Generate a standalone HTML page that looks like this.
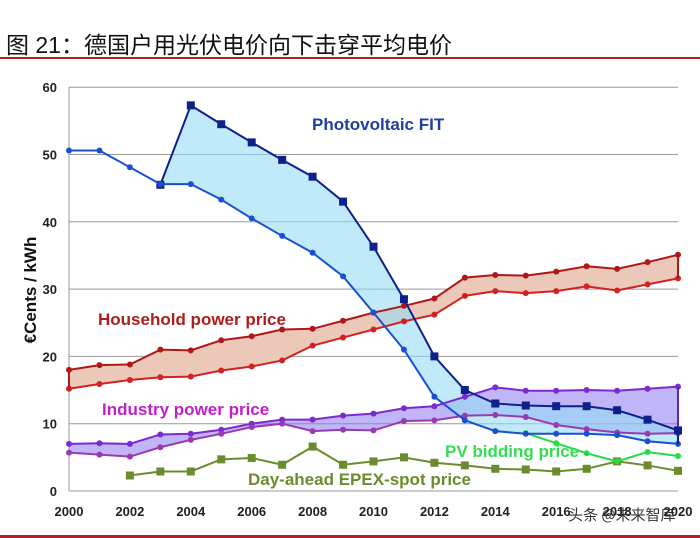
<!DOCTYPE html>
<html><head><meta charset="utf-8"><style>
body{margin:0;background:#fff;width:700px;height:538px;overflow:hidden;font-family:"Liberation Sans","Noto Sans CJK SC",sans-serif}
</style></head><body>
<div style="position:absolute;left:6px;top:26px;font-size:23px;color:#111;font-family:'Liberation Sans','Noto Sans CJK SC',sans-serif;white-space:nowrap">图 21：德国户用光伏电价向下击穿平均电价</div>
<div style="position:absolute;left:0;top:57px;width:700px;height:2px;background:#b22222"></div>
<div style="position:absolute;left:0;top:535px;width:700px;height:3px;background:#b22222"></div>
<svg id="c" width="700" height="538" style="position:absolute;left:0;top:0"></svg>
<script>
const years=[2000,2001,2002,2003,2004,2005,2006,2007,2008,2009,2010,2011,2012,2013,2014,2015,2016,2017,2018,2019,2020];
const fitUpperYears=[2003,2004,2005,2006,2007,2008,2009,2010,2011,2012,2013,2014,2015,2016,2017,2018,2019,2020];
const fitUpper=[45.5,57.3,54.5,51.8,49.2,46.7,43,36.3,28.5,20,15,13,12.7,12.6,12.6,12,10.6,9];
const fitLower=[50.6,50.6,48.1,45.6,45.6,43.3,40.5,37.9,35.4,31.9,26.5,21,14,10.5,8.9,8.5,8.5,8.5,8.3,7.4,7.0];
const houseUpper=[18,18.7,18.8,21,20.9,22.4,23,24,24.1,25.3,26.5,27.5,28.6,31.7,32.1,32,32.6,33.4,33,34,35.1];
const houseLower=[15.2,15.9,16.5,16.9,17,17.9,18.5,19.4,21.6,22.8,24,25.2,26.2,29,29.7,29.4,29.7,30.4,29.8,30.7,31.6];
const indUpper=[7,7.1,7,8.4,8.5,9.1,10,10.6,10.6,11.2,11.5,12.3,12.6,14,15.4,14.9,14.9,15,14.9,15.2,15.5];
const indLower=[5.7,5.4,5.1,6.5,7.6,8.5,9.5,10,8.9,9.1,9,10.4,10.5,11.2,11.3,11,9.8,9.2,8.7,8.5,8.6];
const spotYears=[2002,2003,2004,2005,2006,2007,2008,2009,2010,2011,2012,2013,2014,2015,2016,2017,2018,2019,2020];
const spot=[2.3,2.9,2.9,4.7,4.9,3.9,6.6,3.9,4.4,5,4.2,3.8,3.3,3.2,2.9,3.3,4.4,3.8,3.0];
const bidYears=[2015,2016,2017,2018,2019,2020];
const bid=[8.6,7.1,5.6,4.4,5.8,5.2];
const yTicks=[0,10,20,30,40,50,60];
const xTicks=[2000,2002,2004,2006,2008,2010,2012,2014,2016,2018,2020];

const NS="http://www.w3.org/2000/svg";
const svg=document.getElementById('c');
const X=y=>69+(y-2000)*30.45;
const Y=v=>491-v*6.73;
function mk(t,a,p){const e=document.createElementNS(NS,t);for(const k in a)e.setAttribute(k,a[k]);(p||svg).appendChild(e);return e;}
function pts(xs,vs){return xs.map((x,i)=>X(x)+','+Y(vs[i])).join(' ');}

yTicks.forEach(v=>{
  if(v>0){const g=mk('line',{x1:69,x2:678,y1:Y(v),y2:Y(v),stroke:'#999','stroke-width':1});
  
  }
  const t=mk('text',{x:57,y:Y(v)+5,'text-anchor':'end','font-size':13,'font-weight':'bold',fill:'#222'});
  t.textContent=v;
  
  
});
const ax=mk('line',{x1:69,x2:69,y1:Y(60),y2:Y(0),stroke:'#999'});


const bx=mk('line',{x1:69,x2:678,y1:Y(0),y2:Y(0),stroke:'#999'});


xTicks.forEach(y=>{
  const t=mk('text',{x:X(y),y:516,'text-anchor':'middle','font-size':13,'font-weight':'bold',fill:'#222'});
  t.textContent=y;
  
  
});
const yt=mk('text',{x:0,y:0,transform:'translate(36,290) rotate(-90)','text-anchor':'middle','font-size':17,'font-weight':'bold',fill:'#111'});
yt.textContent='€Cents / kWh';



function band(xu,u,xl,l,fill,name){
  const p=xu.map((x,i)=>X(x)+','+Y(u[i])).concat(xl.map((x,i)=>X(x)+','+Y(l[i])).reverse()).join(' ');
  const e=mk('polygon',{points:p,fill:fill,stroke:'none'});
  
  
}
band(years,houseUpper,years,houseLower,'#ecc8b8','household-band');
band(years,indUpper,years,indLower,'rgba(140,120,240,0.55)','industry-band');
band(fitUpperYears,fitUpper,years.slice(3),fitLower.slice(3),'rgba(150,220,245,0.6)','fit-band');

function line(xs,vs,col,w,marker,name){
  const e=mk('polyline',{points:pts(xs,vs),fill:'none',stroke:col,'stroke-width':w});
  
  
  xs.forEach((x,i)=>{
    let m;
    if(marker==='sq')m=mk('rect',{x:X(x)-4,y:Y(vs[i])-4,width:8,height:8,fill:col});
    else m=mk('circle',{cx:X(x),cy:Y(vs[i]),r:3,fill:col});
    
    
  });
}
line(years,houseUpper,'#b01818',2,'c','household-upper');
line(years,houseLower,'#d42020',2,'c','household-lower');
const hv=mk('line',{x1:X(2000),x2:X(2000),y1:Y(18),y2:Y(15.2),stroke:'#b01818','stroke-width':2});


const hv2=mk('line',{x1:X(2020),x2:X(2020),y1:Y(35.1),y2:Y(31.6),stroke:'#b01818','stroke-width':2});


line(years,indUpper,'#7a2ad0',2,'c','industry-upper');
line(years,indLower,'#9a3ab0',2,'c','industry-lower');
const iv=mk('line',{x1:X(2020),x2:X(2020),y1:Y(15.5),y2:Y(8.6),stroke:'#5a2ab0','stroke-width':2});


line(spotYears,spot,'#6b8c2e',2,'sq','spot');
line(bidYears,bid,'#22dd44',2,'c','bidding');
line(fitUpperYears,fitUpper,'#10208a',2,'sq','fit-upper');
line(years,fitLower,'#1a50d0',2,'c','fit-lower');
const fv=mk('line',{x1:X(2020),x2:X(2020),y1:Y(9),y2:Y(7),stroke:'#10208a','stroke-width':2});



function lab(txt,x,y,col,name){
  const t=mk('text',{x:x,y:y,'font-size':17,'font-weight':'bold',fill:col});
  t.textContent=txt;
  
  
}
lab('Photovoltaic FIT',312,130,'#1f3f9f','label-pv-fit');
lab('Household power price',98,325,'#b01c1c','label-household');
lab('Industry power price',102,415,'#c020c8','label-industry');
lab('PV bidding price',445,457,'#33dd55','label-pv-bidding');
lab('Day-ahead EPEX-spot price',248,485,'#6b8c2e','label-spot');
const wm=mk('text',{x:568,y:520,'font-size':15,fill:'#333','font-family':'"Noto Sans CJK SC",sans-serif'});
wm.textContent='头条 @未来智库';


</script>
</body></html>
